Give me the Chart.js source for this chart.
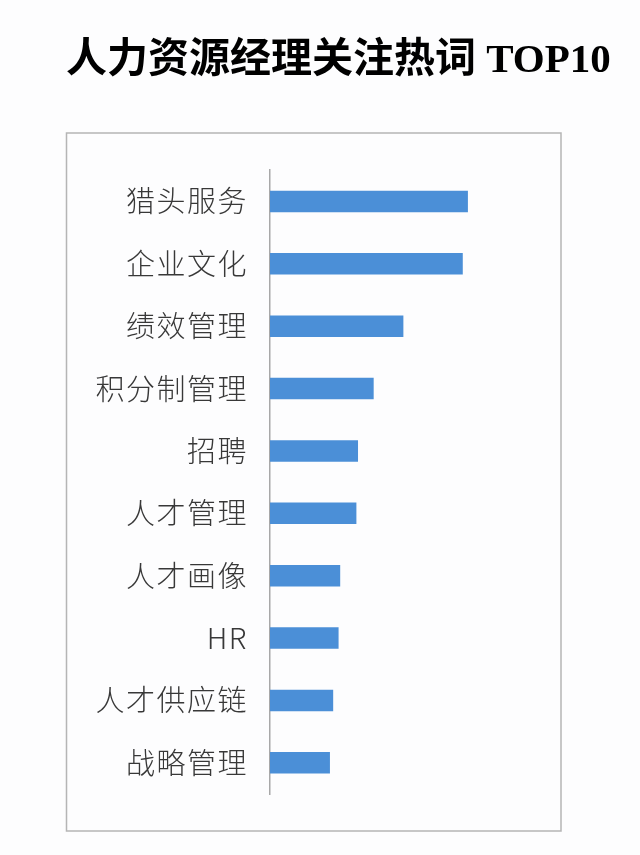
<!DOCTYPE html>
<html>
<head>
<meta charset="utf-8">
<script src="https://cdn.jsdelivr.net/npm/chart.js@4"></script>
<style>
  body { margin: 0; background: #fdfdfe; }
  #wrap { width: 640px; height: 855px; }
</style>
</head>
<body>
<div id="wrap"><canvas id="chart"></canvas></div>
<script>
const categories = ["猎头服务", "企业文化", "绩效管理", "积分制管理", "招聘", "人才管理", "人才画像", "HR", "人才供应链", "战略管理"];
const hotValues = [73.3, 71.4, 49.4, 38.4, 32.6, 32.0, 26.0, 25.4, 23.4, 22.2];
const titleText = "人力资源经理关注热词 TOP10";

// light grey frame round the plot, like the original slide
const framePlugin = {
  id: "frame",
  beforeDraw(chart) {
    const ctx = chart.ctx;
    ctx.save();
    ctx.strokeStyle = "#b5b5b5";
    ctx.lineWidth = 1.5;
    ctx.strokeRect(66.5, 133, 494.5, 698);
    ctx.restore();
  },
  // a little extra spacing on the category labels (drawn after the bars, z: 1)
  afterDatasetsDraw(chart) {
    chart.ctx.letterSpacing = "1.5px";
  },
  afterDraw(chart) {
    chart.ctx.letterSpacing = "0px";
  },
};

chartIt();

function chartIt() {
  const ctx = document.getElementById("chart").getContext("2d");

  const myChart = new Chart(ctx, {
    type: "bar",
    data: {
      labels: categories,
      datasets: [
        {
          label: "热词",
          data: hotValues,
          backgroundColor: "#4b8fd7",
          borderWidth: 0,
          categoryPercentage: 1,
          barPercentage: 0.345,
        },
      ],
    },
    plugins: [framePlugin],
    options: {
      indexAxis: "y",
      responsive: true,
      maintainAspectRatio: false,
      animation: false,
      layout: {
        padding: { left: 66, right: 19, top: 0, bottom: 61 },
      },
      plugins: {
        legend: { display: false },
        tooltip: { enabled: false },
        title: {
          display: true,
          text: titleText,
          align: "start",
          color: "#000",
          font: {
            family: "'Liberation Serif', 'Noto Sans CJK SC', serif",
            size: 41,
            weight: "bold",
          },
          padding: { top: 37, bottom: 84 },
        },
      },
      scales: {
        x: {
          display: false,
          min: 0,
          max: 130,
        },
        y: {
          afterFit: function (scale) {
            scale.width = 204;
          },
          grid: { display: false, drawTicks: false },
          border: { display: true, color: "#a8a8a8", width: 1.5 },
          ticks: {
            z: 1,
            padding: 22,
            color: "#383838",
            font: {
              family: "'Noto Sans CJK SC', sans-serif",
              size: 29,
              weight: "300",
            },
          },
        },
      },
    },
  });
}
</script>
</body>
</html>
